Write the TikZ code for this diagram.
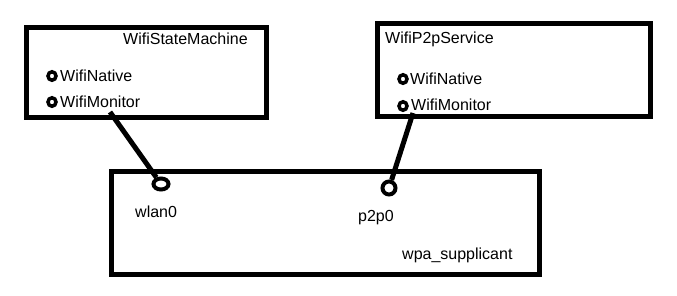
\documentclass[tikz,border=0pt]{standalone}
\usepackage{fontspec}
\setmainfont{Liberation Sans}
\usetikzlibrary{shapes.geometric}
\begin{document}
\begin{tikzpicture}[x=1pt,y=-1pt,
  box/.style={draw, line width=5pt, inner sep=0pt},
  txt/.style={font=\fontsize{16}{16}\selectfont, inner sep=0pt, anchor=base west},
  bullet/.style={draw, ellipse, line width=3.5pt, minimum width=8pt, minimum height=8.5pt, inner sep=0pt},
  port/.style={draw, ellipse, line width=4pt, inner sep=0pt},
  wire/.style={line width=5pt}]
\useasboundingbox (0,0) rectangle (677,295);

% component boxes
\node[box, minimum width=240pt, minimum height=90pt] (sm) at (146.5,72.5) {};
\node[box, minimum width=273pt, minimum height=93pt] (p2p) at (514,70) {};
\node[box, minimum width=428pt, minimum height=103pt] (wpa) at (325.5,223) {};

% WifiStateMachine
\node[txt] (smtitle) at (123,44) {WifiStateMachine};
\node[bullet] (smb1) at (52,76) {};
\node[txt] (smnative) at (60,81) {WifiNative};
\node[bullet] (smb2) at (52,102) {};
\node[txt] (smmonitor) at (60,107) {WifiMonitor};

% WifiP2pService
\node[txt] (p2ptitle) at (385,43) {WifiP2pService};
\node[bullet] (p2pb1) at (403,79) {};
\node[txt] (p2pnative) at (410,84) {WifiNative};
\node[bullet] (p2pb2) at (403,106) {};
\node[txt] (p2pmonitor) at (411,110) {WifiMonitor};

% wpa_supplicant with its interfaces
\node[port, minimum width=15pt, minimum height=11pt] (wlanport) at (161,184) {};
\node[txt] (wlan) at (135,217) {wlan0};
\node[port, minimum width=13pt, minimum height=13pt] (p2pport) at (389,188) {};
\node[txt] (p2pif) at (358,221) {p2p0};
\node[txt] (wpatitle) at (402,259) {wpa\_supplicant};

% monitor connections
\coordinate (smtap) at (110,112);
\coordinate (p2ptap) at (413,113);
\draw[wire] (smtap) -- (wlanport);
\draw[wire] (p2ptap) -- (p2pport);
\end{tikzpicture}
\end{document}
